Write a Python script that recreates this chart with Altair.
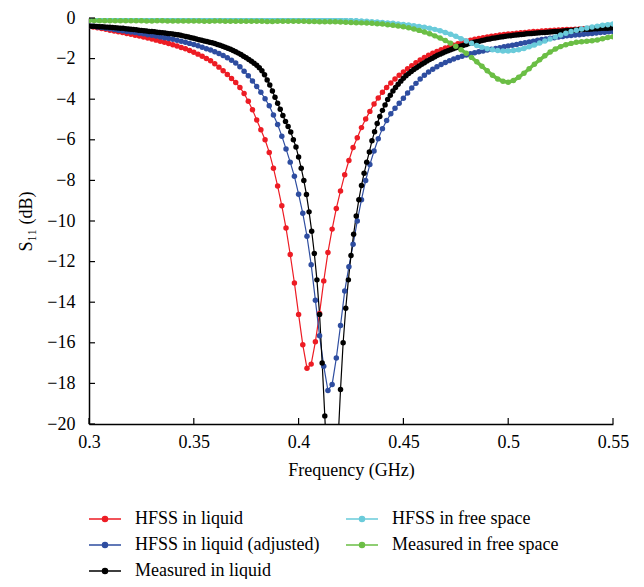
import altair as alt
import pandas as pd

# ---------------- data ----------------
F_START = 0.3
STEP_SIM = 0.002      # HFSS in liquid / adjusted
STEP_MEAS = 0.00125   # Measured in liquid
STEP_FS = 0.0025      # free-space curves

hfss_liquid = [
    -0.40, -0.44, -0.48, -0.52, -0.56, -0.60, -0.64, -0.68, -0.72, -0.76,
    -0.80, -0.85, -0.89, -0.94, -0.99, -1.04, -1.09, -1.14, -1.20, -1.26,
    -1.32, -1.38, -1.45, -1.52, -1.60, -1.69, -1.78, -1.88, -1.99, -2.11,
    -2.25, -2.42, -2.60, -2.78, -2.98, -3.18, -3.42, -3.72, -4.10, -4.52,
    -5.02, -5.50, -6.00, -6.62, -7.40, -8.28, -9.25, -10.35, -11.65, -13.05,
    -14.60, -16.10, -17.25, -17.05, -15.95, -14.55, -12.95, -11.55, -10.40, -9.38,
    -8.52, -7.72, -7.02, -6.38, -5.90, -5.40, -4.98, -4.60, -4.24, -3.94,
    -3.66, -3.42, -3.20, -3.00, -2.82, -2.66, -2.50, -2.35, -2.20, -2.07,
    -1.95, -1.84, -1.74, -1.65, -1.56, -1.48, -1.41, -1.34, -1.27, -1.21,
    -1.15, -1.10, -1.05, -1.01, -0.97, -0.93, -0.90, -0.87, -0.84, -0.81,
    -0.79, -0.77, -0.75, -0.73, -0.71, -0.69, -0.67, -0.66, -0.64, -0.63,
    -0.61, -0.60, -0.59, -0.58, -0.57, -0.56, -0.55, -0.54, -0.53, -0.52,
    -0.51, -0.50, -0.49, -0.48, -0.47, -0.46,
]

hfss_liquid_adj = [
    -0.38, -0.41, -0.44, -0.47, -0.50, -0.53, -0.57, -0.60, -0.63, -0.66,
    -0.69, -0.72, -0.75, -0.78, -0.82, -0.85, -0.89, -0.93, -0.97, -1.01,
    -1.05, -1.10, -1.15, -1.20, -1.25, -1.31, -1.37, -1.44, -1.51, -1.58,
    -1.66, -1.75, -1.85, -1.96, -2.08, -2.22, -2.40, -2.62, -2.85, -3.10,
    -3.37, -3.66, -3.98, -4.32, -4.78, -5.25, -5.82, -6.45, -7.10, -7.80,
    -8.68, -9.62, -10.75, -12.15, -13.90, -15.65, -17.15, -18.35, -18.05, -16.75,
    -15.15, -13.45, -12.25, -11.15, -10.00, -8.95, -8.00, -7.22, -6.55, -5.95,
    -5.45, -5.05, -4.72, -4.45, -4.20, -3.95, -3.70, -3.45, -3.22, -3.01,
    -2.82, -2.66, -2.52, -2.40, -2.29, -2.19, -2.10, -2.02, -1.95, -1.88,
    -1.82, -1.76, -1.71, -1.66, -1.62, -1.58, -1.54, -1.50, -1.46, -1.42,
    -1.38, -1.34, -1.30, -1.26, -1.22, -1.18, -1.14, -1.10, -1.06, -1.03,
    -1.00, -0.97, -0.94, -0.91, -0.88, -0.86, -0.84, -0.82, -0.80, -0.78,
    -0.76, -0.74, -0.72, -0.70, -0.68, -0.67,
]

measured_liquid = [
    -0.40, -0.41, -0.41, -0.42, -0.43, -0.43, -0.44, -0.45, -0.46, -0.47,
    -0.48, -0.49, -0.50, -0.51, -0.53, -0.54, -0.55, -0.57, -0.58, -0.60,
    -0.61, -0.63, -0.64, -0.66, -0.67, -0.68, -0.70, -0.71, -0.73, -0.74,
    -0.76, -0.77, -0.79, -0.81, -0.83, -0.85, -0.88, -0.91, -0.94, -0.97,
    -1.00, -1.04, -1.07, -1.10, -1.13, -1.16, -1.19, -1.22, -1.26, -1.30,
    -1.34, -1.39, -1.44, -1.49, -1.54, -1.60, -1.66, -1.73, -1.80, -1.88,
    -1.96, -2.04, -2.13, -2.23, -2.33, -2.45, -2.60, -2.80, -3.05, -3.30,
    -3.60, -3.90, -4.20, -4.50, -4.80, -5.10, -5.35, -5.62, -6.00, -6.35,
    -6.85, -7.40, -8.00, -8.70, -9.55, -10.50, -11.60, -12.90, -14.60, -17.00,
    -19.60, -22.50, -25.50, -27.00, -25.00, -21.00, -18.30, -16.00, -14.30, -12.90,
    -11.70, -10.65, -9.75, -8.95, -8.25, -7.65, -7.10, -6.60, -6.05, -5.60,
    -5.20, -4.85, -4.55, -4.28, -4.02, -3.80, -3.60, -3.42, -3.26, -3.11,
    -2.97, -2.85, -2.74, -2.64, -2.54, -2.45, -2.36, -2.28, -2.20, -2.12,
    -2.05, -1.98, -1.91, -1.84, -1.78, -1.72, -1.66, -1.61, -1.56, -1.51,
    -1.46, -1.42, -1.38, -1.34, -1.30, -1.26, -1.23, -1.20, -1.17, -1.14,
    -1.11, -1.08, -1.05, -1.03, -1.00, -0.98, -0.96, -0.94, -0.92, -0.90,
    -0.88, -0.87, -0.85, -0.84, -0.82, -0.81, -0.80, -0.78, -0.77, -0.76,
    -0.75, -0.74, -0.73, -0.72, -0.71, -0.70, -0.69, -0.68, -0.67, -0.66,
    -0.65, -0.64, -0.63, -0.62, -0.61, -0.60, -0.59, -0.58, -0.57, -0.56,
    -0.56, -0.55, -0.54, -0.53, -0.53, -0.52, -0.51, -0.50, -0.50, -0.49,
    -0.48,
]

hfss_free_space = [
    -0.05, -0.05, -0.05, -0.05, -0.05, -0.05, -0.05, -0.05, -0.05, -0.05,
    -0.05, -0.05, -0.05, -0.05, -0.05, -0.05, -0.05, -0.05, -0.06, -0.06,
    -0.06, -0.06, -0.06, -0.06, -0.06, -0.06, -0.06, -0.06, -0.06, -0.06,
    -0.07, -0.07, -0.07, -0.07, -0.07, -0.07, -0.07, -0.07, -0.07, -0.07,
    -0.08, -0.08, -0.08, -0.09, -0.09, -0.09, -0.10, -0.10, -0.10, -0.11,
    -0.12, -0.13, -0.15, -0.16, -0.18, -0.20, -0.22, -0.24, -0.26, -0.29,
    -0.32, -0.35, -0.38, -0.42, -0.46, -0.50, -0.56, -0.63, -0.71, -0.80,
    -0.90, -1.02, -1.13, -1.24, -1.35, -1.44, -1.51, -1.56, -1.60, -1.62,
    -1.62, -1.60, -1.56, -1.50, -1.42, -1.33, -1.23, -1.13, -1.03, -0.93,
    -0.84, -0.75, -0.67, -0.60, -0.54, -0.49, -0.44, -0.40, -0.36, -0.33,
    -0.30,
]

measured_free_space = [
    -0.12, -0.12, -0.13, -0.13, -0.13, -0.14, -0.14, -0.14, -0.14, -0.14,
    -0.14, -0.15, -0.15, -0.14, -0.14, -0.15, -0.15, -0.15, -0.15, -0.15,
    -0.15, -0.15, -0.16, -0.16, -0.15, -0.15, -0.16, -0.16, -0.16, -0.16,
    -0.16, -0.16, -0.16, -0.16, -0.17, -0.17, -0.16, -0.16, -0.16, -0.16,
    -0.16, -0.16, -0.17, -0.17, -0.18, -0.18, -0.19, -0.19, -0.20, -0.21,
    -0.22, -0.23, -0.24, -0.25, -0.26, -0.28, -0.30, -0.33, -0.36, -0.39,
    -0.43, -0.48, -0.54, -0.61, -0.69, -0.78, -0.88, -0.99, -1.11, -1.24,
    -1.39, -1.56, -1.74, -1.94, -2.16, -2.38, -2.60, -2.82, -3.00, -3.12,
    -3.16, -3.08, -2.92, -2.72, -2.50, -2.28, -2.06, -1.86, -1.68, -1.53,
    -1.41, -1.32, -1.25, -1.20, -1.17, -1.15, -1.12, -1.08, -1.02, -0.96,
    -0.92,
]

SERIES = [
    ("HFSS in liquid", hfss_liquid, STEP_SIM),
    ("HFSS in liquid (adjusted)", hfss_liquid_adj, STEP_SIM),
    ("Measured in liquid", measured_liquid, STEP_MEAS),
    ("HFSS in free space", hfss_free_space, STEP_FS),
    ("Measured in free space", measured_free_space, STEP_FS),
]
NAMES = [s[0] for s in SERIES]
COLORS = ["#ED1C24", "#2E4DA0", "#000000", "#6ACBDA", "#6BBE45"]

X_TICKS = [0.3, 0.35, 0.4, 0.45, 0.5, 0.55]
Y_TICKS = list(range(-20, 1, 2))

rows = []
for name, vals, step in SERIES:
    for i, v in enumerate(vals):
        rows.append({"series": name, "freq": round(F_START + i * step, 6), "s11": v})
df = pd.DataFrame(rows)

df_sim = df[df["series"].isin(NAMES[:2])]
df_meas = df[df["series"] == NAMES[2]]
df_liq = df[df["series"].isin(NAMES[:3])]
df_fs = df[df["series"].isin(NAMES[3:])]

FONT = "Liberation Serif"
W, H = 524, 406

X = alt.X("freq:Q",
          scale=alt.Scale(domain=[0.3, 0.55], nice=False, zero=False),
          axis=alt.Axis(values=X_TICKS, format=".2~f", title="Frequency (GHz)",
                        ticks=False, labelPadding=9, titlePadding=10, labelFlush=False,
                        labelFont=FONT, labelFontSize=18, titleFont=FONT, titleFontSize=18,
                        domainColor="black", domainWidth=1.5, grid=False))
Y = alt.Y("s11:Q",
          scale=alt.Scale(domain=[-20, 0], nice=False, zero=False),
          axis=alt.Axis(values=Y_TICKS, format="d", title="S₁₁ (dB)",
                        ticks=False, labelPadding=14, titlePadding=11, labelFlush=False,
                        labelFont=FONT, labelFontSize=18, titleFont=FONT, titleFontSize=18,
                        domainColor="black", domainWidth=1.5, grid=False))

SYMBOL = ("M-1.6,0H1.6"
          "M-0.26,0A0.26,0.26,0,1,1,0.26,0A0.26,0.26,0,1,1,-0.26,0Z")

def make_legend():
    return alt.Legend(title=None, orient="none", legendX=5, legendY=490,
                      columns=2, columnPadding=23, rowPadding=6,
                      symbolType=SYMBOL, symbolSize=400, symbolStrokeWidth=1.3,
                      labelFont=FONT, labelFontSize=18, labelColor="black",
                      labelOffset=19, padding=0, labelLimit=400)

color_dom = alt.Scale(domain=NAMES, range=COLORS)

lines_liq = alt.Chart(df_liq).mark_line(clip=True, strokeWidth=1.2).encode(
    x=X, y=Y, stroke=alt.Stroke("series:N", scale=color_dom, legend=make_legend()))
lines_fs = alt.Chart(df_fs).mark_line(clip=True, strokeWidth=3.5).encode(
    x=X, y=Y, stroke=alt.Stroke("series:N", scale=color_dom, legend=make_legend()))

pts_sim = alt.Chart(df_sim).mark_point(filled=True, clip=True, opacity=1).encode(
    x=X, y=Y, fill=alt.Fill("series:N", scale=color_dom, legend=make_legend()))
pts_meas = alt.Chart(df_meas).mark_point(filled=True, clip=True, opacity=1).encode(
    x=X, y=Y, fill=alt.Fill("series:N", scale=color_dom, legend=make_legend()))
pts_fs = alt.Chart(df_fs).mark_point(filled=True, clip=True, opacity=1).encode(
    x=X, y=Y, fill=alt.Fill("series:N", scale=color_dom, legend=make_legend()))

xt = alt.Chart(pd.DataFrame({"freq": X_TICKS})).mark_rule(
    color="black", strokeWidth=1.2).encode(x=X, y=alt.value(H), y2=alt.value(H - 6))
yt = alt.Chart(pd.DataFrame({"s11": Y_TICKS})).mark_rule(
    color="black", strokeWidth=1.2).encode(y=Y, x=alt.value(0), x2=alt.value(6))

chart = alt.layer(lines_liq, lines_fs, pts_sim, pts_meas, pts_fs, xt, yt).properties(
    width=W, height=H,
    autosize=alt.AutoSizeParams(type="none"),
    padding={"left": 81, "top": 10, "right": 20, "bottom": 155},
).configure_view(stroke=None).configure_axis(
    labelFont=FONT, labelFontSize=18, labelColor="black",
    titleFont=FONT, titleFontSize=18, titleFontWeight="normal", titleColor="black",
)

chart.save("out.html", embed_options={"renderer": "svg", "actions": False})
